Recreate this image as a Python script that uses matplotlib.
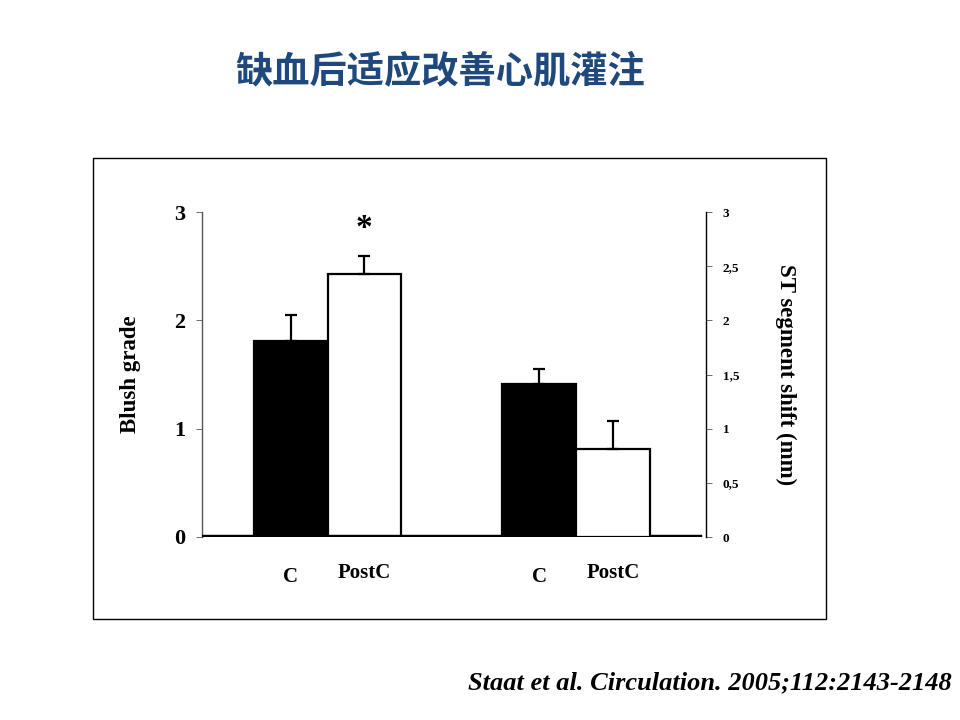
import matplotlib
matplotlib.use("Agg")
import matplotlib.pyplot as plt
from matplotlib.patches import Rectangle

title = "缺血后适应改善心肌灌注"
citation = "Staat et al. Circulation. 2005;112:2143-2148"
categories = ["C", "PostC"]
# Left group: blush grade ; right group: ST segment shift (mm)
blush_means = [1.81, 2.43]
blush_err = [0.24, 0.16]
st_means = [1.41, 0.81]
st_err = [0.14, 0.26]
left_ticks = [0, 1, 2, 3]
left_ticklabels = ["0", "1", "2", "3"]
right_ticks = [0, 0.5, 1, 1.5, 2, 2.5, 3]
right_ticklabels = ["0", "0,5", "1", "1,5", "2", "2,5", "3"]
colors = ["black", "white"]

plt.rcParams['font.family'] = ['Liberation Serif', 'DejaVu Serif']

W, H = 960, 720
fig = plt.figure(figsize=(9.6, 7.2), dpi=100)

def fx(px):
    return px / W

def fy(py):
    return 1 - py / H

# frame around chart
fig.patches.append(Rectangle((fx(93), fy(619)), fx(826) - fx(93), fy(158) - fy(619),
                             transform=fig.transFigure, fill=False, edgecolor='black',
                             linewidth=1.0))

ax = fig.add_axes([fx(202), fy(537), fx(706) - fx(202), fy(212) - fy(537)])
ax2 = ax.twinx()

w = 0.296
groups = [0, 1]
ax.set_xlim(-0.505, 1.523)
ax.set_ylim(0, 3)
ax2.set_ylim(0, 3)

for i, (m, e) in enumerate(zip(blush_means, blush_err)):
    x = groups[0] + (i - 0.5) * w
    ax.bar(x, m, width=w, color=colors[i], edgecolor='black', linewidth=1.6, zorder=2)
    ax.errorbar(x, m, yerr=[[0], [e]], fmt='none', ecolor='black', elinewidth=1.6,
                capsize=4, capthick=1.6, zorder=3)

for i, (m, e) in enumerate(zip(st_means, st_err)):
    x = groups[1] + (i - 0.5) * w
    ax2.bar(x, m, width=w, color=colors[i], edgecolor='black', linewidth=1.6, zorder=2)
    ax2.errorbar(x, m, yerr=[[0], [e]], fmt='none', ecolor='black', elinewidth=1.6,
                 capsize=4, capthick=1.6, zorder=3)

# significance star
ax.text(groups[0] + 0.5 * w, blush_means[1] + blush_err[1] + 0.26, "*",
        ha='center', va='center', fontsize=24, fontweight='bold')

# zero baseline
ax.axhline(0, xmin=0, xmax=0.988, color='black', linewidth=3.2, zorder=4)

for a in (ax, ax2):
    a.spines['top'].set_visible(False)
    a.spines['bottom'].set_visible(False)
    a.set_xticks([])
    a.patch.set_visible(False)
ax.spines['right'].set_visible(False)
ax2.spines['left'].set_visible(False)
ax.spines['left'].set_color('#555555')
ax.spines['left'].set_linewidth(1.0)
ax2.spines['right'].set_linewidth(1.0)

ax.set_yticks(left_ticks)
ax.set_yticklabels(left_ticklabels, fontsize=16, fontweight='bold')
ax.tick_params(axis='y', length=4, width=0.6, color='#555555', pad=8)

ax2.set_yticks(right_ticks)
ax2.set_yticklabels(right_ticklabels, fontsize=9.5, fontweight='bold')
ax2.tick_params(axis='y', length=4, width=0.6, color='#555555', pad=8)

ax.set_ylabel("Blush grade", fontsize=16.5, fontweight='bold', labelpad=24)
ax2.set_ylabel("ST segment shift (mm)", fontsize=16.5, fontweight='bold', rotation=-90,
               labelpad=41)

# category labels
for g in groups:
    for i, c in enumerate(categories):
        x = g + (i - 0.5) * w
        ax.annotate(c, xy=(x, 0), xycoords=('data', 'axes fraction'),
                    xytext=(0, -28.5 if c == "C" else -26), textcoords='offset points',
                    ha='center', va='center', fontsize=15, fontweight='bold')

fig.text(fx(440), fy(72), title, ha='center', va='center', fontsize=26.8,
         fontweight='bold', color='#1F497D',
         family=['Noto Sans CJK SC', 'DejaVu Sans'])

fig.text(fx(952), fy(683), citation, ha='right', va='center', fontsize=19,
         fontstyle='italic', fontweight='bold')

fig.savefig("out.png", dpi=100)
